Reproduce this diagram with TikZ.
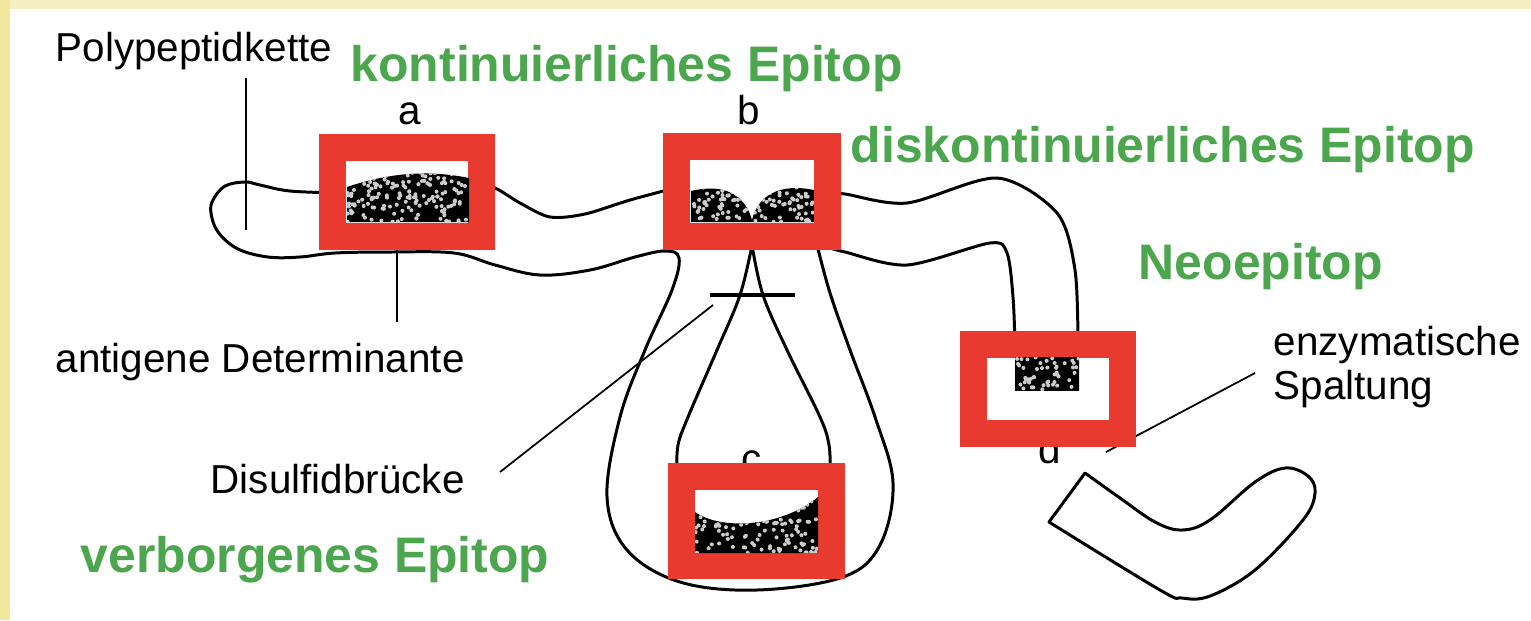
\documentclass[tikz,border=0pt]{standalone}
\usepackage{fontspec}
\setmainfont{Liberation Sans}
\definecolor{epired}{RGB}{232,58,46}
\definecolor{epigreen}{RGB}{76,166,78}
\definecolor{creamtop}{RGB}{246,237,194}
\definecolor{creamleft}{RGB}{243,230,158}
\tikzset{
  strand/.style={line width=0.85pt, line join=round},
  leader/.style={line width=0.5pt},
  epiframe/.style={draw=epired, line width=0.27cm, fill=white},
  speck/.style={fill=white!80!black},
  lbl/.style={inner sep=0pt, font=\fontsize{11.5}{13}\selectfont},
  epi/.style={inner sep=0pt, text=epigreen, font=\fontsize{14.2}{16}\selectfont\bfseries},
}

\begin{document}
\begin{tikzpicture}[x=1cm, y=-1cm]
	\useasboundingbox (0,0) rectangle (15.31,6.20);
	\pgfmathsetseed{11}
	
	% Background
	\fill[creamtop] (0,0) rectangle (15.31,0.09);
	\fill[creamleft] (0,0) rectangle (0.10,6.20);
	
	% Chain: left end, strand below a, outer loop
	\draw[strand] plot[smooth, tension=0.6] coordinates {(3.40,1.93) (2.90,1.91) (2.60,1.85) (2.45,1.82) (2.25,1.86) (2.13,2.00) (2.11,2.13) (2.18,2.32) (2.38,2.49) (2.68,2.57) (3.00,2.57) (3.35,2.53) (3.90,2.52) (4.54,2.53) (4.95,2.65) (5.40,2.75) (5.90,2.70) (6.35,2.57) (6.65,2.51) (6.79,2.58) (6.72,2.90) (6.45,3.50) (6.20,4.17) (6.07,4.97) (6.27,5.50) (6.80,5.82) (7.57,5.90) (8.43,5.77) (8.80,5.45) (8.93,4.83) (8.75,4.17) (8.50,3.50) (8.30,2.93) (8.17,2.45)};
	
	% Chain: upper strand between a and b
	\draw[strand] plot[smooth] coordinates {(4.80,1.88) (4.95,1.88) (5.20,2.03) (5.50,2.17) (5.85,2.14) (6.30,2.00) (6.75,1.88)};
	
	% Chain: inner loop
	\draw[strand] plot[smooth, tension=0.6] coordinates {(6.77,4.70) (6.78,4.45) (6.88,4.17) (7.17,3.50) (7.40,2.95) (7.52,2.45)};
	\draw[strand] plot[smooth, tension=0.6] coordinates {(7.52,2.45) (7.63,2.95) (7.87,3.50) (8.20,4.17) (8.29,4.45) (8.30,4.70)};
	
	% Chain: right part bending down into d
	\draw[strand] plot[smooth] coordinates {(8.30,1.93) (8.45,1.94) (9.07,2.03) (9.97,1.78) (10.57,2.13) (10.75,2.70) (10.78,3.45)};
	\draw[strand] plot[smooth] coordinates {(8.30,2.48) (8.45,2.52) (9.07,2.65) (9.90,2.43) (10.07,2.53) (10.13,2.97) (10.15,3.45)};
	
	% Cleaved fragment
	\draw[strand] plot[smooth, tension=0.6] coordinates {(10.85,4.73) (11.20,4.98) (11.55,5.22) (11.82,5.30) (12.10,5.20) (12.55,4.82) (12.85,4.68) (13.08,4.76) (13.15,4.93) (13.03,5.20) (12.55,5.70) (12.10,5.96) (11.82,5.98) (11.60,5.90) (10.49,5.22)} -- cycle;
	
	% Disulfide bridge
	\draw[line width=1.4pt] (7.10,2.95) -- (7.95,2.95);
	
	% Leader lines
	\coordinate (polyend) at (2.46,0.78);
	\coordinate (polytip) at (2.46,2.30);
	\coordinate (antend) at (3.97,3.22);
	\coordinate (anttip) at (3.97,2.45);
	\coordinate (disend) at (5.00,4.72);
	\coordinate (distip) at (7.13,3.05);
	\coordinate (spaltend) at (12.55,3.73);
	\coordinate (spalttip) at (11.06,4.52);
	\draw[leader] (polyend) -- (polytip);
	\draw[leader] (anttip) -- (antend);
	\draw[leader] (disend) -- (distip);
	\draw[leader] (spaltend) -- (spalttip);
	
	% Letters partly under the frames
	\node[lbl, anchor=base] (clbl) at (7.52,4.72) {c};
	\node[lbl, anchor=base] (dlbl) at (10.50,4.63) {d};
	
	% Frames
	\draw[epiframe] (3.325,1.47) rectangle (4.815,2.36);
	\draw[epiframe] (6.765,1.465) rectangle (8.275,2.36);
	\draw[epiframe] (6.815,4.765) rectangle (8.315,5.655);
	\draw[epiframe] (9.735,3.445) rectangle (11.225,4.335);
	
	% Determinants
	\begin{scope}
		\clip (3.47,2.22) -- (3.47,1.87) .. controls (3.80,1.76) and (4.20,1.68) .. (4.69,1.78) -- (4.69,2.22) -- cycle;
		\fill (3.40,1.60) rectangle (4.70,2.30);
		\foreach \i in {1,...,160} \fill[speck] ({3.47+1.22*rnd},{1.72+0.50*rnd}) circle (0.2mm);
	\end{scope}
	\begin{scope}
		\clip (6.91,2.22) -- (6.91,1.91) .. controls (7.25,1.83) and (7.45,1.95) .. (7.52,2.20) .. controls (7.58,1.95) and (7.80,1.83) .. (8.14,1.90) -- (8.14,2.22) -- cycle;
		\fill (6.90,1.80) rectangle (8.15,2.30);
		\foreach \i in {1,...,130} \fill[speck] ({6.91+1.23*rnd},{1.85+0.37*rnd}) circle (0.2mm);
	\end{scope}
	\begin{scope}
		\clip (6.95,5.53) -- (6.95,5.12) .. controls (7.20,5.30) and (7.80,5.28) .. (8.18,4.97) -- (8.18,5.53) -- cycle;
		\fill (6.90,4.90) rectangle (8.20,5.60);
		\foreach \i in {1,...,130} \fill[speck] ({6.95+1.23*rnd},{5.00+0.53*rnd}) circle (0.2mm);
	\end{scope}
	\begin{scope}
		\clip (10.15,3.57) rectangle (10.79,3.90);
		\fill (10.10,3.55) rectangle (10.80,3.95);
		\foreach \i in {1,...,50} \fill[speck] ({10.15+0.64*rnd},{3.57+0.33*rnd}) circle (0.2mm);
	\end{scope}
	
	% Labels
	\node[lbl, anchor=base west] (polylbl) at (0.55,0.61) {Polypeptidkette};
	\node[lbl, anchor=base] (albl) at (4.10,1.24) {a};
	\node[lbl, anchor=base] (blbl) at (7.49,1.24) {b};
	\node[lbl, anchor=base west] (antlbl) at (0.55,3.72) {antigene Determinante};
	\node[lbl, anchor=base west] (dislbl) at (2.10,4.93) {Disulfidbrücke};
	\node[lbl, anchor=base west] (enzlbl) at (12.73,3.55) {enzymatische};
	\node[lbl, anchor=base west] (spaltlbl) at (12.73,3.99) {Spaltung};
	
	\node[epi, anchor=base west] (kontlbl) at (3.50,0.81) {kontinuierliches Epitop};
	\node[epi, anchor=base west] (diskontlbl) at (8.50,1.62) {diskontinuierliches Epitop};
	\node[epi, anchor=base west] (neolbl) at (11.38,2.79) {Neoepitop};
	\node[epi, anchor=base west] (verblbl) at (0.80,5.72) {verborgenes Epitop};
\end{tikzpicture}
\end{document}
